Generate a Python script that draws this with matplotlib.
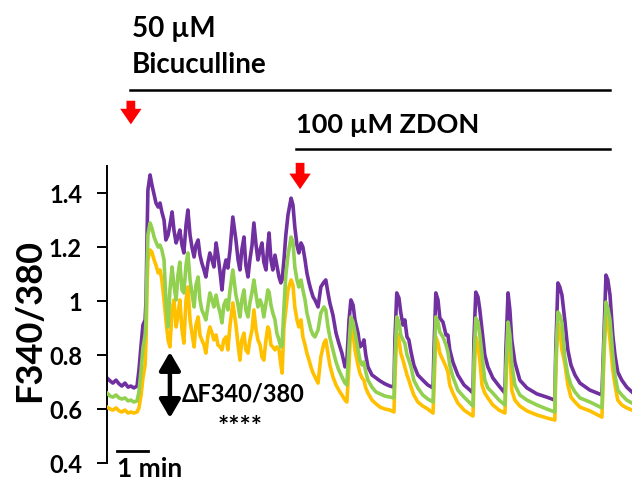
import matplotlib
matplotlib.use("Agg")
import matplotlib.pyplot as plt

plt.rcParams['font.family'] = ['Lato', 'DejaVu Sans']
plt.rcParams['font.weight'] = 'bold'

# Recording time (min) and F340/380 ratio for three cells
time_min = [
    0.00, 0.10, 0.19, 0.29, 0.39, 0.48, 0.58, 0.68, 0.77, 0.87, 0.97,
    1.03, 1.10, 1.16, 1.23, 1.26, 1.29, 1.32, 1.39, 1.45, 1.52, 1.58, 1.65,
    1.71, 1.77, 1.84, 1.90, 1.97, 2.03, 2.10, 2.16, 2.23, 2.29, 2.35, 2.42,
    2.48, 2.55, 2.61, 2.68, 2.74, 2.81, 2.87, 2.94, 3.00, 3.06, 3.13, 3.19,
    3.26, 3.32, 3.39, 3.45, 3.52, 3.58, 3.65, 3.71, 3.77, 3.84, 3.90, 3.97,
    4.06, 4.16, 4.23, 4.29, 4.35, 4.42, 4.48, 4.55, 4.61, 4.68, 4.74, 4.81,
    4.87, 4.94, 5.00, 5.06, 5.13, 5.19, 5.23, 5.29, 5.35, 5.42, 5.48, 5.55,
    5.61, 5.65, 5.71, 5.77, 5.84, 5.94, 6.00, 6.06, 6.13, 6.19, 6.26, 6.32,
    6.39, 6.45, 6.52, 6.58, 6.65, 6.71, 6.81, 6.90, 7.00, 7.06, 7.13, 7.19,
    7.29, 7.39, 7.48, 7.58, 7.68, 7.74, 7.81, 7.87, 7.94, 8.00, 8.10, 8.16,
    8.23, 8.29, 8.35, 8.42, 8.55, 8.68, 8.81, 8.97, 9.13, 9.26, 9.29, 9.35,
    9.42, 9.48, 9.55, 9.61, 9.68, 9.74, 9.81, 9.90, 10.03, 10.19, 10.35,
    10.52, 10.55, 10.61, 10.68, 10.74, 10.84, 10.94, 11.00, 11.06, 11.16,
    11.32, 11.52, 11.71, 11.81, 11.84, 11.90, 11.97, 12.03, 12.10, 12.19,
    12.29, 12.45, 12.65, 12.84, 12.87, 12.94, 13.00, 13.06, 13.16, 13.32,
    13.55, 13.87, 14.19, 14.45, 14.48, 14.55, 14.61, 14.68, 14.77, 14.87,
    14.97, 15.10, 15.26, 15.58, 15.97, 16.03, 16.10, 16.16, 16.23, 16.32,
    16.39, 16.48, 16.61, 16.77, 16.94,
]

cell_purple = [
    0.715, 0.704, 0.696, 0.707, 0.693, 0.685, 0.696, 0.681, 0.685, 0.678, 0.685,
    0.744, 0.837, 0.911, 0.930, 1.004, 1.226, 1.411, 1.467, 1.430, 1.393, 1.363, 1.348,
    1.363, 1.330, 1.300, 1.226, 1.244, 1.281, 1.330, 1.263, 1.215, 1.237, 1.263, 1.207,
    1.178, 1.281, 1.337, 1.244, 1.200, 1.163, 1.207, 1.226, 1.170, 1.141, 1.115, 1.089,
    1.144, 1.178, 1.152, 1.126, 1.215, 1.170, 1.104, 1.041, 1.115, 1.152, 1.122, 1.189,
    1.311, 1.226, 1.152, 1.115, 1.189, 1.237, 1.133, 1.089, 1.152, 1.207, 1.289, 1.207,
    1.152, 1.189, 1.215, 1.144, 1.115, 1.207, 1.252, 1.152, 1.115, 1.170, 1.133, 1.089,
    1.067, 1.078, 1.152, 1.244, 1.319, 1.381, 1.356, 1.274, 1.207, 1.178, 1.215, 1.200,
    1.152, 1.104, 1.067, 1.041, 1.015, 1.004, 0.978, 1.052, 1.070, 1.078, 1.030, 0.993,
    0.948, 0.881, 0.844, 0.807, 0.756, 0.781, 0.930, 1.004, 0.985, 0.930, 0.881, 0.830,
    0.837, 0.856, 0.800, 0.756, 0.726, 0.715, 0.704, 0.693, 0.685, 0.681, 0.856, 1.030,
    1.011, 0.956, 0.911, 0.930, 0.867, 0.856, 0.811, 0.763, 0.726, 0.707, 0.689,
    0.678, 0.819, 1.030, 1.004, 0.937, 0.922, 0.874, 0.874, 0.819, 0.774,
    0.726, 0.689, 0.670, 0.659, 0.856, 1.033, 1.015, 0.967, 0.893, 0.800,
    0.756, 0.715, 0.685, 0.659, 0.819, 1.030, 0.967, 0.856, 0.774, 0.707,
    0.678, 0.656, 0.644, 0.633, 0.819, 1.067, 1.052, 1.022, 0.930, 0.819,
    0.763, 0.726, 0.696, 0.670, 0.652, 0.856, 1.096, 1.078, 1.022, 0.874,
    0.800, 0.737, 0.707, 0.681, 0.663,
]

cell_green = [
    0.659, 0.648, 0.644, 0.652, 0.641, 0.637, 0.641, 0.630, 0.633, 0.626, 0.630,
    0.663, 0.744, 0.826, 0.874, 0.930, 1.115, 1.244, 1.289, 1.270, 1.237, 1.219, 1.200,
    1.207, 1.189, 1.152, 1.004, 0.904, 1.041, 1.126, 1.059, 1.004, 1.096, 1.144, 1.041,
    1.030, 1.133, 1.178, 1.078, 1.030, 0.978, 1.059, 1.089, 1.004, 0.967, 0.948, 0.930,
    0.985, 1.030, 1.004, 0.978, 1.022, 0.985, 0.956, 0.919, 0.985, 1.004, 0.967, 1.041,
    1.115, 1.022, 0.985, 0.941, 1.004, 1.041, 0.967, 0.941, 0.993, 1.033, 1.078, 1.022,
    0.978, 1.004, 0.985, 0.941, 0.993, 1.041, 1.033, 0.985, 0.956, 0.930, 0.881, 0.856,
    0.830, 0.837, 0.978, 1.096, 1.170, 1.237, 1.219, 1.126, 1.078, 1.052, 1.078, 1.041,
    1.004, 0.956, 0.922, 0.893, 0.874, 0.867, 0.893, 0.956, 0.978, 0.967, 0.904, 0.867,
    0.819, 0.774, 0.744, 0.719, 0.696, 0.689, 0.837, 0.941, 0.922, 0.885, 0.819, 0.781,
    0.763, 0.774, 0.737, 0.707, 0.681, 0.663, 0.656, 0.648, 0.644, 0.641, 0.781, 0.941,
    0.922, 0.874, 0.856, 0.844, 0.800, 0.781, 0.756, 0.707, 0.678, 0.652, 0.637,
    0.626, 0.744, 0.941, 0.922, 0.885, 0.867, 0.837, 0.811, 0.763, 0.719,
    0.670, 0.644, 0.622, 0.611, 0.781, 0.937, 0.922, 0.874, 0.800, 0.707,
    0.678, 0.659, 0.633, 0.615, 0.744, 0.922, 0.874, 0.770, 0.689, 0.652,
    0.633, 0.615, 0.600, 0.589, 0.781, 0.959, 0.948, 0.919, 0.793, 0.726,
    0.689, 0.663, 0.641, 0.626, 0.604, 0.819, 0.996, 0.974, 0.930, 0.800,
    0.726, 0.670, 0.652, 0.633, 0.622,
]

cell_yellow = [
    0.607, 0.600, 0.596, 0.604, 0.593, 0.589, 0.596, 0.585, 0.589, 0.585, 0.589,
    0.604, 0.652, 0.715, 0.763, 0.856, 1.041, 1.152, 1.189, 1.181, 1.152, 1.133, 1.104,
    1.115, 1.078, 1.004, 0.930, 0.856, 0.830, 0.967, 1.004, 0.904, 0.948, 1.004, 0.893,
    0.844, 1.004, 1.052, 0.930, 0.881, 0.830, 0.911, 0.941, 0.874, 0.856, 0.837, 0.807,
    0.874, 0.904, 0.881, 0.856, 0.874, 0.837, 0.830, 0.819, 0.856, 0.867, 0.819, 0.911,
    0.993, 0.911, 0.837, 0.781, 0.856, 0.881, 0.819, 0.807, 0.856, 0.893, 0.967, 0.893,
    0.856, 0.837, 0.793, 0.781, 0.856, 0.904, 0.893, 0.837, 0.830, 0.819, 0.830, 0.819,
    0.763, 0.733, 0.904, 0.967, 1.041, 1.078, 1.059, 0.978, 0.930, 0.904, 0.930, 0.867,
    0.837, 0.807, 0.781, 0.756, 0.733, 0.719, 0.696, 0.793, 0.844, 0.856, 0.807, 0.763,
    0.719, 0.689, 0.670, 0.652, 0.633, 0.626, 0.763, 0.919, 0.881, 0.819, 0.763, 0.733,
    0.715, 0.707, 0.678, 0.659, 0.633, 0.619, 0.607, 0.600, 0.596, 0.589, 0.707, 0.881,
    0.856, 0.807, 0.781, 0.756, 0.726, 0.707, 0.681, 0.652, 0.626, 0.611, 0.600,
    0.585, 0.670, 0.867, 0.844, 0.807, 0.781, 0.756, 0.737, 0.689, 0.659,
    0.622, 0.596, 0.581, 0.574, 0.707, 0.867, 0.837, 0.781, 0.689, 0.659,
    0.641, 0.615, 0.596, 0.585, 0.689, 0.893, 0.819, 0.670, 0.633, 0.611,
    0.593, 0.578, 0.567, 0.559, 0.744, 0.919, 0.893, 0.819, 0.770, 0.689,
    0.644, 0.626, 0.607, 0.593, 0.570, 0.781, 0.956, 0.930, 0.856, 0.744,
    0.689, 0.633, 0.615, 0.604, 0.596,
]

y_ticks = [0.4, 0.6, 0.8, 1.0, 1.2, 1.4]
y_tick_labels = ["0.4", "0.6", "0.8", "1", "1.2", "1.4"]

# Drug application times (min) and the response marker range
bicuculline_start = 0.77
zdon_start = 6.23
trace_end = 16.23
delta_range = (0.567, 0.811)

PURPLE = "#7030A0"
GREEN = "#92D050"
YELLOW = "#FFC000"

fig = plt.figure(figsize=(6.32, 4.83), dpi=100)
ax = fig.add_axes([0.1693, 0.0414, 0.8307, 0.6149])

ax.plot(time_min, cell_purple, color=PURPLE, lw=2.6, zorder=2, solid_joinstyle='round')
ax.plot(time_min, cell_yellow, color=YELLOW, lw=2.6, zorder=3, solid_joinstyle='round')
ax.plot(time_min, cell_green, color=GREEN, lw=2.6, zorder=4, solid_joinstyle='round')

ax.set_xlim(0, 16.94)
ax.set_ylim(0.4, 1.5)
for side in ("top", "right", "bottom"):
    ax.spines[side].set_visible(False)
ax.spines["left"].set_linewidth(1.4)
ax.set_xticks([])
ax.set_yticks(y_ticks)
ax.set_yticklabels(y_tick_labels, fontsize=17, fontweight='bold')
ax.tick_params(axis='y', direction='out', length=7, width=1.4, pad=11)
fig.text(30 / 632, 1 - 320 / 483, "F340/380", rotation=90, fontsize=26,
         fontweight='bold', ha='center', va='center')

# Drug application bars and labels
ax.plot([bicuculline_start - 0.03, trace_end], [1.781, 1.781], color='black', lw=1.8, clip_on=False)
ax.text(bicuculline_start + 0.04, 1.978, "50 µM", fontsize=20, fontweight='bold', ha='left', va='baseline')
ax.text(bicuculline_start + 0.04, 1.844, "Bicuculline", fontsize=20, fontweight='bold', ha='left', va='baseline')
ax.plot([zdon_start - 0.13, trace_end], [1.563, 1.563], color='black', lw=1.8, clip_on=False)
ax.text(zdon_start - 0.12, 1.622, "100 µM ZDON", fontsize=19.5, fontweight='bold', ha='left', va='baseline')

# Red arrows marking drug addition
red_arrow = dict(arrowstyle="simple,head_length=0.8,head_width=1.1,tail_width=0.45",
                 color='#FF0000', lw=0, mutation_scale=14)
ax.annotate("", xy=(bicuculline_start, 1.644), xytext=(bicuculline_start, 1.752),
            arrowprops=red_arrow, annotation_clip=False)
ax.annotate("", xy=(zdon_start, 1.404), xytext=(zdon_start, 1.522),
            arrowprops=red_arrow, annotation_clip=False)

# Amplitude marker
ax.annotate("", xy=(2.03, delta_range[0]), xytext=(2.03, delta_range[1]),
            arrowprops=dict(arrowstyle="<|-|>,head_length=0.55,head_width=0.32",
                            color='black', lw=3.2, mutation_scale=20, shrinkA=0, shrinkB=0))
ax.text(2.40, 0.626, "ΔF340/380", fontsize=17, fontweight='bold', ha='left', va='baseline')
ax.text(4.29, 0.535, "****", fontsize=19, fontweight='bold', ha='center', va='center')

# Time scale bar
ax.plot([0.32, 1.32], [0.444, 0.444], color='black', lw=2, clip_on=False)
ax.text(0.32, 0.348, "1 min", fontsize=19, fontweight='bold', ha='left', va='baseline')

fig.savefig("out.png", dpi=100)
